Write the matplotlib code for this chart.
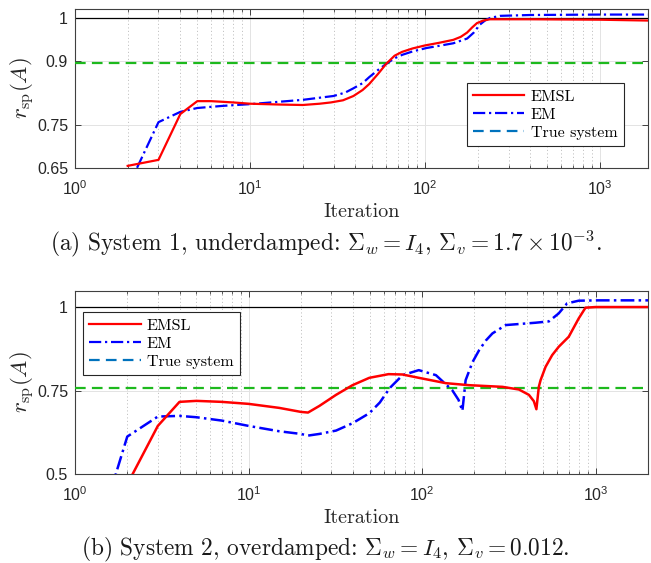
import matplotlib
matplotlib.use("Agg")
import matplotlib.pyplot as plt
from matplotlib.lines import Line2D
from matplotlib.font_manager import FontProperties
from matplotlib.ticker import LogLocator, FixedLocator, FixedFormatter, NullFormatter

plt.rcParams['font.family'] = ['Liberation Sans', 'DejaVu Sans']
plt.rcParams['mathtext.fontset'] = 'custom'
plt.rcParams['mathtext.rm'] = 'Liberation Sans'
plt.rcParams['mathtext.it'] = 'Liberation Sans:italic'
plt.rcParams['mathtext.bf'] = 'Liberation Sans:bold'
plt.rcParams['xtick.direction'] = 'in'
plt.rcParams['ytick.direction'] = 'in'
plt.rcParams['xtick.top'] = True
plt.rcParams['ytick.right'] = True

# ---------------- data ----------------
# System 1 (top)
top_emsl_iter = [2, 3, 4, 5, 6, 8, 10, 15, 20, 25, 29, 34, 39, 44, 48, 54, 60, 67, 74, 85, 100, 120, 145,
                 160, 174, 186, 198, 215, 235, 400, 1000, 1900]
top_emsl_val = [0.655, 0.669, 0.776, 0.806, 0.806, 0.803, 0.800, 0.798, 0.797, 0.800, 0.803, 0.808, 0.818,
                0.832, 0.846, 0.870, 0.893, 0.912, 0.921, 0.929, 0.936, 0.942, 0.949, 0.956, 0.966, 0.978,
                0.988, 0.994, 0.997, 0.997, 0.996, 0.994]
top_em_iter = [2, 3, 4, 5, 7, 10, 20, 25, 30, 35, 39, 44, 48, 54, 61, 67, 74, 85, 102, 120, 145, 174, 190,
               205, 220, 235, 268, 400, 1000, 1900]
top_em_val = [0.604, 0.757, 0.781, 0.790, 0.795, 0.799, 0.809, 0.814, 0.818, 0.826, 0.836, 0.848, 0.862,
              0.879, 0.895, 0.906, 0.914, 0.922, 0.930, 0.935, 0.941, 0.952, 0.966, 0.984, 0.994, 1.000,
              1.005, 1.007, 1.008, 1.008]
top_true = 0.896

# System 2 (bottom)
bot_emsl_iter = [2, 3, 4, 5, 7, 10, 15, 20, 22, 25.6, 31.9, 39.7, 49.6, 64, 77, 95.6, 137, 186, 290, 361,
                 412, 440, 455, 470, 481, 514, 561, 612, 699, 798, 873, 1000, 2000]
bot_emsl_val = [0.469, 0.644, 0.716, 0.719, 0.716, 0.710, 0.698, 0.686, 0.684, 0.704, 0.737, 0.766, 0.788,
                0.799, 0.798, 0.788, 0.772, 0.766, 0.761, 0.753, 0.737, 0.718, 0.694, 0.761, 0.781, 0.821,
                0.856, 0.881, 0.911, 0.966, 0.998, 1.000, 1.000]
bot_em_iter = [1, 2, 3, 4, 5, 7, 10, 15, 20, 22, 25.6, 31.9, 39.7, 49.6, 57, 65.2, 77.1, 95.6, 120, 149,
               162, 170.5, 178, 195, 213, 233, 254, 303, 450, 537, 612, 684, 798, 1040, 2000]
bot_em_val = [0.10, 0.612, 0.672, 0.674, 0.670, 0.660, 0.644, 0.628, 0.620, 0.615, 0.620, 0.630, 0.652,
              0.682, 0.714, 0.758, 0.796, 0.811, 0.796, 0.751, 0.722, 0.689, 0.781, 0.835, 0.871, 0.900,
              0.921, 0.946, 0.953, 0.957, 0.981, 1.011, 1.019, 1.020, 1.020]
bot_true = 0.758

top_yticks = [0.65, 0.75, 0.9, 1]
top_yticklabels = ['0.65', '0.75', '0.9', '1']
bot_yticks = [0.5, 0.75, 1]
bot_yticklabels = ['0.5', '0.75', '1']

caption_a = r'(a) System 1, underdamped: $\Sigma_w = I_4$, $\Sigma_v = 1.7 \times 10^{-3}$.'
caption_b = r'(b) System 2, overdamped: $\Sigma_w = I_4$, $\Sigma_v = 0.012$.'

# ---------------- styles ----------------
RED = '#FF0000'
BLUE = '#0000FF'
GREEN = '#1DB91D'
LEGBLUE = '#0072BD'
DASHDOT = (0, (5.5, 1.7, 1.0, 1.7))
DASHED = (0, (4.8, 2.8))
CM = dict(family='cmr10', math_fontfamily='cm')

W, H = 651, 563
fig = plt.figure(figsize=(W / 100, H / 100), dpi=100)


def style_axes(ax, xmax, ylim, yticks, yticklabels):
    ax.set_xscale('log')
    ax.set_xlim(1, xmax)
    ax.set_ylim(*ylim)
    ax.yaxis.set_major_locator(FixedLocator(yticks))
    ax.yaxis.set_major_formatter(FixedFormatter(yticklabels))
    ax.xaxis.set_major_locator(LogLocator(base=10, numticks=10))
    ax.xaxis.set_minor_locator(LogLocator(base=10, subs=range(2, 10), numticks=20))
    ax.xaxis.set_minor_formatter(NullFormatter())
    ax.grid(True, which='major', axis='both', color='#e3e3e3', lw=0.7, ls='-', zorder=0)
    ax.grid(True, which='minor', axis='x', color='#c4c4c4', lw=0.7, ls=(0, (1.2, 2.4)), zorder=0)
    ax.set_axisbelow(True)
    for s in ax.spines.values():
        s.set_color('#404040')
        s.set_linewidth(0.8)
    ax.tick_params(which='major', length=4, width=0.7, color='#404040', labelsize=11.5, labelcolor='#262626')
    ax.tick_params(which='minor', length=2.5, width=0.6, color='#404040')
    ax.tick_params(axis='y', which='major', pad=5)
    ax.tick_params(axis='x', which='major', pad=8)
    ax.set_xlabel('Iteration', fontsize=14.5, color='#262626', labelpad=4, **CM)
    ax.set_ylabel(r'$r_{\rm sp}(A)$', fontsize=16.5, color='#262626', **CM)
    ax.yaxis.set_label_coords(-0.066, 0.5)


def legend(ax, anchor):
    handles = [Line2D([], [], color=RED, lw=1.6),
               Line2D([], [], color=BLUE, lw=1.6, ls=DASHDOT),
               Line2D([], [], color=LEGBLUE, lw=1.6, ls=DASHED)]
    leg = ax.legend(handles, ['EMSL', 'EM', 'True system'], loc='upper left', bbox_to_anchor=anchor,
                    prop=FontProperties(family='cmr10', size=11.5), frameon=True, fancybox=False,
                    framealpha=1, edgecolor='#262626', handlelength=3.2, handletextpad=0.4,
                    labelspacing=0.25, borderpad=0.4, borderaxespad=0)
    leg.get_frame().set_linewidth(0.8)


# top axes
ax1 = fig.add_axes([75 / W, 1 - 168 / H, 573 / W, 159 / H])
style_axes(ax1, 1880, (0.65, 1.021), top_yticks, top_yticklabels)
ax1.axhline(1, color='black', lw=0.9, zorder=2)
ax1.axhline(top_true, color=GREEN, lw=1.6, ls=DASHED, zorder=3)
ax1.plot(top_em_iter, top_em_val, color=BLUE, lw=1.6, ls=DASHDOT, zorder=4)
ax1.plot(top_emsl_iter, top_emsl_val, color=RED, lw=1.6, zorder=5)
legend(ax1, (0.684, 0.535))

# bottom axes
ax2 = fig.add_axes([75 / W, 1 - 474 / H, 573 / W, 183 / H])
style_axes(ax2, 2000, (0.5, 1.048), bot_yticks, bot_yticklabels)
ax2.axhline(1, color='black', lw=0.9, zorder=2)
ax2.axhline(bot_true, color=GREEN, lw=1.6, ls=DASHED, zorder=3)
ax2.plot(bot_em_iter, bot_em_val, color=BLUE, lw=1.8, ls=DASHDOT, zorder=4)
ax2.plot(bot_emsl_iter, bot_emsl_val, color=RED, lw=1.8, zorder=5)
legend(ax2, (0.014, 0.885))

fig.text(0.5, 1 - 244 / H, caption_a, ha='center', va='center', fontsize=16.8, color='#1a1a1a', **CM)
fig.text(0.5, 1 - 549 / H, caption_b, ha='center', va='center', fontsize=16.8, color='#1a1a1a', **CM)

fig.savefig('out.png', dpi=100)
